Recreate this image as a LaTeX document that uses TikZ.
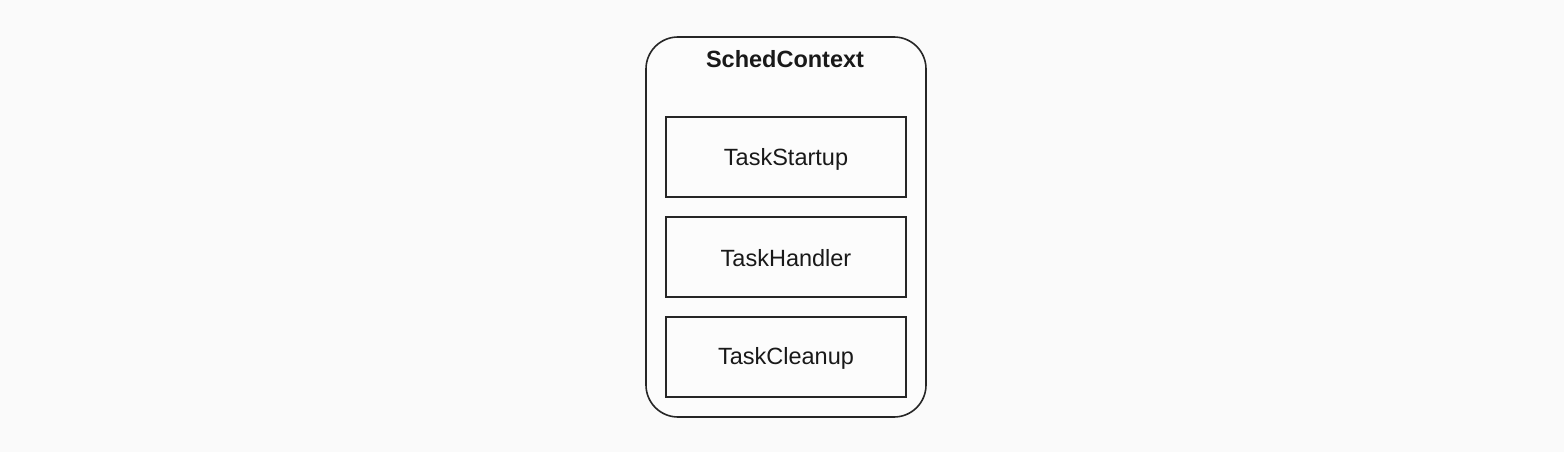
\documentclass[tikz,border=0pt]{standalone}
\usepackage{fontspec}
\setmainfont{Liberation Sans}
\begin{document}
\begin{tikzpicture}[x=1pt,y=-1pt,
  outerbox/.style={draw=black!85, line width=1.6pt, rounded corners=32pt},
  taskbox/.style={draw=black!85, line width=1.6pt, minimum width=240pt, minimum height=80pt, inner sep=0pt, font=\fontsize{23.5}{27}\selectfont},
  tasklabel/.style={font=\fontsize{23.5}{27}\selectfont, text=black!90},
  titletext/.style={font=\fontsize{23.5}{28}\selectfont\bfseries, text=black!90}]
\fill[white!98!black] (0,0) rectangle (1564,452);
\useasboundingbox (0,0) rectangle (1564,452);
\draw[outerbox, fill=white!99!black] (646,37) rectangle (926,417);
\node[titletext] (title) at (785,59) {SchedContext};
\node[taskbox] (startup) at (786,157) {};
\node[taskbox] (handler) at (786,257) {};
\node[taskbox] (cleanup) at (786,357) {};
\node[tasklabel] (startuplabel) at ([yshift=-2.5pt]startup.center) {TaskStartup};
\node[tasklabel] (handlerlabel) at ([yshift=-1pt]handler.center) {TaskHandler};
\node[tasklabel] (cleanuplabel) at ([yshift=-1.5pt]cleanup.center) {TaskCleanup};
\end{tikzpicture}
\end{document}
